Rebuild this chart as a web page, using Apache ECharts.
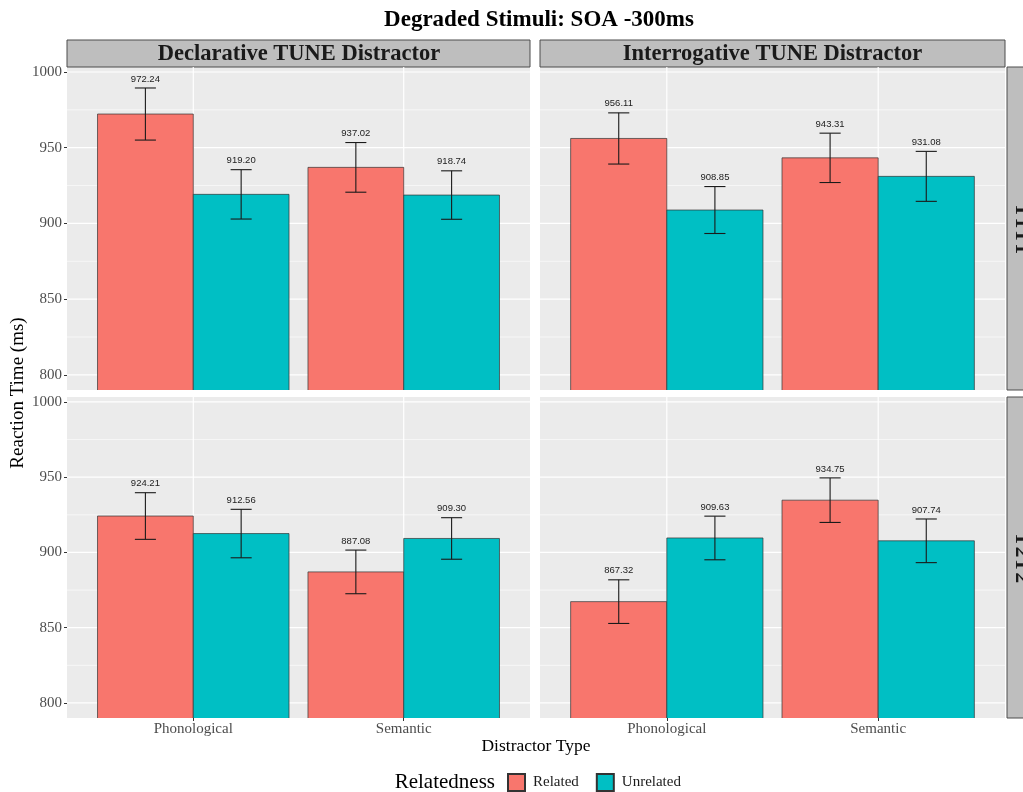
<!DOCTYPE html>
<html>
<head>
<meta charset="utf-8">
<script src="https://cdn.jsdelivr.net/npm/echarts@6/dist/echarts.min.js"></script>
<style>html,body{margin:0;padding:0;background:#fff;}#c{width:1023px;height:792px;}</style>
</head>
<body>
<div id="c"></div>
<script>
const categories = ['Phonological', 'Semantic'];
const tuneNames = ['Declarative TUNE Distractor', 'Interrogative TUNE Distractor'];
const rowNames = ['T1T1', 'T2T2'];
const legendNames = ['Related', 'Unrelated'];

const decT1Related = [972.24, 937.02];
const decT1Unrelated = [919.20, 918.74];
const intT1Related = [956.11, 943.31];
const intT1Unrelated = [908.85, 931.08];
const decT2Related = [924.21, 887.08];
const decT2Unrelated = [912.56, 909.30];
const intT2Related = [867.32, 934.75];
const intT2Unrelated = [909.63, 907.74];

const decT1RelatedErr = [17.2, 16.4];
const decT1UnrelatedErr = [16.3, 16.0];
const intT1RelatedErr = [16.9, 16.3];
const intT1UnrelatedErr = [15.5, 16.5];
const decT2RelatedErr = [15.5, 14.5];
const decT2UnrelatedErr = [16.1, 13.8];
const intT2RelatedErr = [14.5, 14.8];
const intT2UnrelatedErr = [14.5, 14.5];

const yMajor = [800, 850, 900, 950, 1000];
const yMinor = [825, 875, 925, 975];
const xPositions = [1, 2];

const YMIN = 790, YMAX = 1003.3, XMIN = 0.4, XMAX = 2.6;
const RED = '#F8766D', TEAL = '#00BFC4';
const SERIF = '"Liberation Serif", "DejaVu Serif", serif';
const SANS = '"Liberation Sans", Arial, sans-serif';

const panels = [
  {rel: decT1Related, unr: decT1Unrelated, relE: decT1RelatedErr, unrE: decT1UnrelatedErr, left: 67, width: 463, top: 67, height: 323, bottom: false},
  {rel: intT1Related, unr: intT1Unrelated, relE: intT1RelatedErr, unrE: intT1UnrelatedErr, left: 540, width: 465, top: 67, height: 323, bottom: false},
  {rel: decT2Related, unr: decT2Unrelated, relE: decT2RelatedErr, unrE: decT2UnrelatedErr, left: 67, width: 463, top: 397, height: 321, bottom: true},
  {rel: intT2Related, unr: intT2Unrelated, relE: intT2RelatedErr, unrE: intT2UnrelatedErr, left: 540, width: 465, top: 397, height: 321, bottom: true}
];

function gridRender(params, api) {
  const children = [];
  yMinor.forEach(v => {
    const a = api.coord([XMIN, v]), b = api.coord([XMAX, v]);
    children.push({type: 'line', shape: {x1: a[0], y1: a[1], x2: b[0], y2: b[1]}, style: {stroke: '#fff', lineWidth: 0.6}});
  });
  yMajor.forEach(v => {
    const a = api.coord([XMIN, v]), b = api.coord([XMAX, v]);
    children.push({type: 'line', shape: {x1: a[0], y1: a[1], x2: b[0], y2: b[1]}, style: {stroke: '#fff', lineWidth: 1.2}});
  });
  xPositions.forEach(x => {
    const a = api.coord([x, YMIN]), b = api.coord([x, YMAX]);
    children.push({type: 'line', shape: {x1: a[0], y1: a[1], x2: b[0], y2: b[1]}, style: {stroke: '#fff', lineWidth: 1.2}});
  });
  return params.dataIndex === 0 ? {type: 'group', children} : null;
}

function barRender(offset, color) {
  return function (params, api) {
    const x = api.value(0) + offset, v = api.value(1), e = api.value(2);
    const half = 0.2275, cap = 0.05;
    const p0 = api.coord([x - half, v]);
    const p1 = api.coord([x + half, YMIN]);
    const t = api.coord([x, v + e]);
    const b = api.coord([x, v - e]);
    const cl = api.coord([x - cap, v])[0], cr = api.coord([x + cap, v])[0];
    return {
      type: 'group',
      children: [
        {type: 'rect', shape: {x: p0[0], y: p0[1], width: p1[0] - p0[0], height: p1[1] - p0[1] + 1}, style: {fill: color, stroke: '#333', lineWidth: 0.7}},
        {type: 'line', shape: {x1: t[0], y1: t[1], x2: b[0], y2: b[1]}, style: {stroke: '#1a1a1a', lineWidth: 1.1}},
        {type: 'line', shape: {x1: cl, y1: t[1], x2: cr, y2: t[1]}, style: {stroke: '#1a1a1a', lineWidth: 1.1}},
        {type: 'line', shape: {x1: cl, y1: b[1], x2: cr, y2: b[1]}, style: {stroke: '#1a1a1a', lineWidth: 1.1}},
        {type: 'text', x: t[0], y: t[1] - 9, style: {text: v.toFixed(2), fill: '#222', font: '9.5px ' + SANS, align: 'center', verticalAlign: 'middle'}}
      ]
    };
  };
}

const grids = [], xAxes = [], yAxes = [], series = [];
panels.forEach((p, i) => {
  grids.push({left: p.left, width: p.width, top: p.top, height: p.height, show: true, backgroundColor: '#EBEBEB', borderWidth: 0});
  xAxes.push({
    type: 'value', gridIndex: i, min: XMIN, max: XMAX,
    axisLine: {show: false}, splitLine: {show: false},
    axisTick: {show: p.bottom, customValues: xPositions, length: 3, lineStyle: {color: '#333'}},
    axisLabel: {show: p.bottom, customValues: xPositions, formatter: v => categories[Math.round(v) - 1] || '', color: '#4D4D4D', fontFamily: SERIF, fontSize: 15, margin: 4}
  });
  const leftCol = (i % 2 === 0);
  yAxes.push({
    type: 'value', gridIndex: i, min: YMIN, max: YMAX,
    axisLine: {show: false}, splitLine: {show: false},
    axisTick: {show: leftCol, customValues: yMajor, length: 3, lineStyle: {color: '#333'}},
    axisLabel: {show: leftCol, customValues: yMajor, formatter: v => String(Math.round(v)), color: '#4D4D4D', fontFamily: SERIF, fontSize: 15, margin: 5}
  });
  series.push({type: 'custom', xAxisIndex: i, yAxisIndex: i, renderItem: gridRender, data: [[1, 800]], silent: true, z: 1, legendHoverLink: false});
  series.push({name: legendNames[0], type: 'custom', xAxisIndex: i, yAxisIndex: i, renderItem: barRender(-0.2275, RED), clip: true, z: 2,
    itemStyle: {color: RED, borderColor: '#333', borderWidth: 0.7},
    data: xPositions.map((x, k) => [x, p.rel[k], p.relE[k]])});
  series.push({name: legendNames[1], type: 'custom', xAxisIndex: i, yAxisIndex: i, renderItem: barRender(0.2275, TEAL), clip: true, z: 2,
    itemStyle: {color: TEAL, borderColor: '#333', borderWidth: 0.7},
    data: xPositions.map((x, k) => [x, p.unr[k], p.unrE[k]])});
});

const graphics = [
  {type: 'text', x: 539, y: 20, style: {text: 'Degraded Stimuli: SOA -300ms', font: 'bold 23px ' + SERIF, fill: '#000', align: 'center', verticalAlign: 'middle'}},
  {type: 'rect', shape: {x: 67, y: 40, width: 463, height: 27}, style: {fill: '#BEBEBE', stroke: '#4D4D4D', lineWidth: 1}},
  {type: 'text', x: 299, y: 54, style: {text: tuneNames[0], font: 'bold 22.5px ' + SERIF, fill: '#1a1a1a', align: 'center', verticalAlign: 'middle'}},
  {type: 'rect', shape: {x: 540, y: 40, width: 465, height: 27}, style: {fill: '#BEBEBE', stroke: '#4D4D4D', lineWidth: 1}},
  {type: 'text', x: 772.5, y: 54, style: {text: tuneNames[1], font: 'bold 22.5px ' + SERIF, fill: '#1a1a1a', align: 'center', verticalAlign: 'middle'}},
  {type: 'rect', shape: {x: 1007, y: 67, width: 40, height: 323}, style: {fill: '#BEBEBE', stroke: '#4D4D4D', lineWidth: 1}},
  {type: 'text', x: 1021.5, y: 228.5, rotation: -Math.PI / 2, style: {text: rowNames[0], font: 'bold 22px ' + SERIF, fill: '#1a1a1a', align: 'center', verticalAlign: 'middle'}},
  {type: 'rect', shape: {x: 1007, y: 397, width: 40, height: 321}, style: {fill: '#BEBEBE', stroke: '#4D4D4D', lineWidth: 1}},
  {type: 'text', x: 1021.5, y: 557.5, rotation: -Math.PI / 2, style: {text: rowNames[1], font: 'bold 22px ' + SERIF, fill: '#1a1a1a', align: 'center', verticalAlign: 'middle'}},
  {type: 'text', x: 18, y: 393, rotation: Math.PI / 2, style: {text: 'Reaction Time (ms)', font: '19px ' + SERIF, fill: '#000', align: 'center', verticalAlign: 'middle'}},
  {type: 'text', x: 536, y: 746, style: {text: 'Distractor Type', font: '17.5px ' + SERIF, fill: '#000', align: 'center', verticalAlign: 'middle'}},
  {type: 'text', x: 495, y: 782, style: {text: 'Relatedness', font: '21px ' + SERIF, fill: '#000', align: 'right', verticalAlign: 'middle'}}
];

const chart = echarts.init(document.getElementById('c'), null, {renderer: 'canvas'});
chart.setOption({
  animation: false,
  backgroundColor: '#fff',
  grid: grids, xAxis: xAxes, yAxis: yAxes, series: series,
  legend: {
    data: legendNames, left: 507, top: 773, orient: 'horizontal',
    icon: 'rect', itemWidth: 17, itemHeight: 17, itemGap: 17,
    textStyle: {fontFamily: SERIF, fontSize: 15, color: '#1a1a1a', padding: [0, 0, 0, 3]},
    selectedMode: false, padding: 0
  },
  graphic: graphics
});
</script>
</body>
</html>
